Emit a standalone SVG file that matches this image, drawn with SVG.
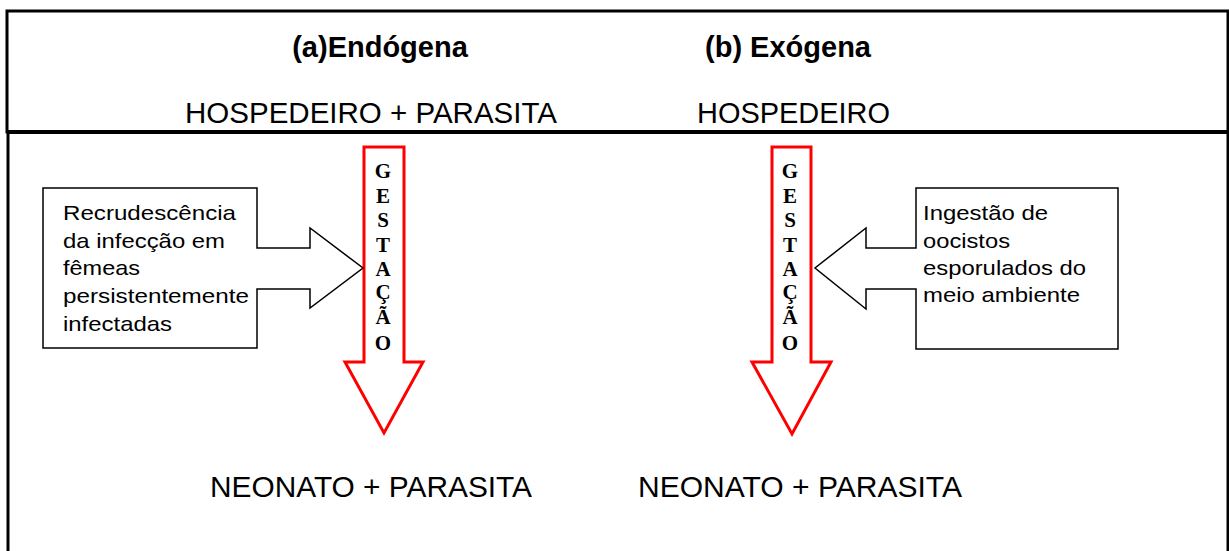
<svg xmlns="http://www.w3.org/2000/svg" width="1229" height="551" viewBox="0 0 1229 551">
<style>
.frame{fill:none;stroke:#000;stroke-width:3}
.head{font-family:"Liberation Sans",Arial,sans-serif;font-weight:bold;font-size:29px;fill:#000}
.big{font-family:"Liberation Sans",Arial,sans-serif;font-size:30px;fill:#000}
.small{font-family:"Liberation Sans",Arial,sans-serif;font-size:21px;fill:#000}
.call{fill:#fff;stroke:#000;stroke-width:1.5}
.gest{fill:#fff;stroke:#ff0000;stroke-width:3}
.vt{font-family:"Liberation Serif","Times New Roman",serif;font-weight:bold;font-size:21px;fill:#000;text-anchor:middle}
</style>
<rect width="1229" height="551" fill="#fff"/>
<g id="frame">
<rect class="frame" x="7" y="11" width="1221" height="121"/>
<rect class="frame" x="8" y="132" width="1220" height="440"/>
<line x1="7" y1="132" x2="1228" y2="132" stroke="#000" stroke-width="4"/>
</g>
<g id="headers">
<text class="head" x="380" y="57" text-anchor="middle">(a)Endógena</text>
<text class="head" x="788" y="57" text-anchor="middle">(b) Exógena</text>
<text class="big" x="185" y="123" textLength="372" lengthAdjust="spacingAndGlyphs">HOSPEDEIRO + PARASITA</text>
<text class="big" x="697" y="123" textLength="193" lengthAdjust="spacingAndGlyphs">HOSPEDEIRO</text>
<text class="big" x="210" y="497" textLength="322" lengthAdjust="spacingAndGlyphs">NEONATO + PARASITA</text>
<text class="big" x="638" y="497" textLength="324" lengthAdjust="spacingAndGlyphs">NEONATO + PARASITA</text>
</g>
<g id="gestacao-a">
<polygon class="gest" points="364,147 404,147 404,362 423,362 384,433 345,362 364,362"/>
<text class="vt" x="383" y="178">G</text>
<text class="vt" x="383" y="203">E</text>
<text class="vt" x="383" y="227">S</text>
<text class="vt" x="383" y="252">T</text>
<text class="vt" x="383" y="276">A</text>
<text class="vt" x="383" y="299">Ç</text>
<text class="vt" x="383" y="324">Ã</text>
<text class="vt" x="383" y="350">O</text>
</g>
<g id="gestacao-b">
<polygon class="gest" points="772,147 811,147 811,362 831,362 792,434 752,362 772,362"/>
<text class="vt" x="790" y="178">G</text>
<text class="vt" x="790" y="203">E</text>
<text class="vt" x="790" y="227">S</text>
<text class="vt" x="790" y="252">T</text>
<text class="vt" x="790" y="276">A</text>
<text class="vt" x="790" y="299">Ç</text>
<text class="vt" x="790" y="324">Ã</text>
<text class="vt" x="790" y="350">O</text>
</g>
<g id="callout-a">
<polygon class="call" points="43,188 257,188 257,248 310,248 310,228 363,268 310,308 310,289 257,289 257,348 43,348"/>
<text class="small" x="63" y="220" textLength="173" lengthAdjust="spacingAndGlyphs">Recrudescência</text>
<text class="small" x="63" y="248" textLength="162" lengthAdjust="spacingAndGlyphs">da infecção em</text>
<text class="small" x="63" y="275" textLength="77" lengthAdjust="spacingAndGlyphs">fêmeas</text>
<text class="small" x="63" y="303" textLength="186" lengthAdjust="spacingAndGlyphs">persistentemente</text>
<text class="small" x="63" y="331" textLength="109" lengthAdjust="spacingAndGlyphs">infectadas</text>
</g>
<g id="callout-b">
<polygon class="call" points="1118,188 916,188 916,248 866,248 866,228 815,268 866,309 866,289 916,289 916,349 1118,349"/>
<text class="small" x="923" y="220" textLength="125" lengthAdjust="spacingAndGlyphs">Ingestão de</text>
<text class="small" x="923" y="248" textLength="87" lengthAdjust="spacingAndGlyphs">oocistos</text>
<text class="small" x="923" y="275" textLength="163" lengthAdjust="spacingAndGlyphs">esporulados do</text>
<text class="small" x="923" y="302" textLength="157" lengthAdjust="spacingAndGlyphs">meio ambiente</text>
</g>
</svg>
